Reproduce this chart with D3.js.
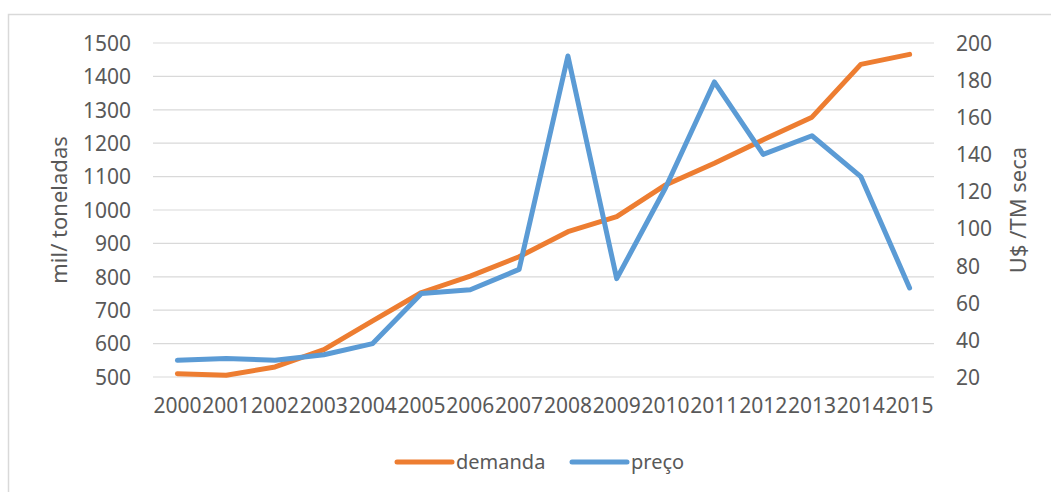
<!DOCTYPE html>
<html>
<head>
<meta charset="utf-8">
<script src="https://cdn.jsdelivr.net/npm/d3@7"></script>
<style>
  body { margin: 0; background: #fff; }
  text { font-family: "Noto Sans", "Open Sans", sans-serif; fill: #595959; }
</style>
</head>
<body>
<div id="chart"></div>
<script>
var anos = ["2000","2001","2002","2003","2004","2005","2006","2007","2008","2009","2010","2011","2012","2013","2014","2015"];
var demanda = [510, 505, 530, 582, 668, 753, 802, 860, 935, 980, 1075, 1140, 1210, 1278, 1436, 1466];
var preco = [29, 30, 29, 32, 38, 65, 67, 78, 193, 73, 122, 179, 140, 150, 128, 68];
var ticksEsq = [500, 600, 700, 800, 900, 1000, 1100, 1200, 1300, 1400, 1500];
var ticksDir = [20, 40, 60, 80, 100, 120, 140, 160, 180, 200];

var W = 1051, H = 492;
var svg = d3.select("#chart")
            .append("svg")
            .attr("width", W)
            .attr("height", H);

// moldura (sem borda direita visivel)
svg.append("rect")
   .attr("x", 8.5).attr("y", 14.5)
   .attr("width", 1100).attr("height", 500)
   .attr("fill", "none")
   .attr("stroke", "#d9d9d9")
   .attr("stroke-width", 1.5);

var x = d3.scaleBand()
          .domain(anos)
          .range([153, 934]);

var yL = d3.scaleLinear()
           .domain([500, 1500])
           .range([377, 43]);

var yR = d3.scaleLinear()
           .domain([20, 200])
           .range([377, 43]);

// grade
svg.append("g")
   .selectAll("line")
   .data(ticksEsq)
   .enter().append("line")
   .attr("x1", 153).attr("x2", 934)
   .attr("y1", function(d){ return yL(d); })
   .attr("y2", function(d){ return yL(d); })
   .attr("stroke", "#d9d9d9")
   .attr("stroke-width", 1.2);

// eixo esquerdo
var axL = svg.append("g")
   .attr("transform", "translate(131,0)")
   .call(d3.axisLeft(yL).tickValues(ticksEsq).tickFormat(d3.format("d")).tickSize(0).tickPadding(0));
axL.select(".domain").remove();
axL.selectAll("text").style("font-size", "21px").attr("dy", "0.35em");

// eixo direito
var axR = svg.append("g")
   .attr("transform", "translate(956,0)")
   .call(d3.axisRight(yR).tickValues(ticksDir).tickSize(0).tickPadding(0));
axR.select(".domain").remove();
axR.selectAll("text").style("font-size", "21px").attr("dy", "0.35em");

// eixo x
var axX = svg.append("g")
   .attr("transform", "translate(0,397)")
   .call(d3.axisBottom(x).tickSize(0).tickPadding(0));
axX.select(".domain").remove();
axX.selectAll("text").style("font-size", "21px").attr("dy", "0.75em");

// titulos
svg.append("text")
   .attr("transform", "translate(67,210) rotate(-90)")
   .attr("text-anchor", "middle")
   .style("font-size", "22px")
   .text("mil/ toneladas");

svg.append("text")
   .attr("transform", "translate(1026,210) rotate(-90)")
   .attr("text-anchor", "middle")
   .style("font-size", "22px")
   .text("U$ /TM seca");

// linhas
var cx = function(d, i){ return x(anos[i]) + x.bandwidth() / 2; };

var lineL = d3.line().x(cx).y(function(d){ return yL(d); });
var lineR = d3.line().x(cx).y(function(d){ return yR(d); });

svg.append("path")
   .attr("d", lineL(demanda))
   .attr("stroke", "#ED7D31")
   .attr("fill", "none")
   .attr("stroke-width", 5)
   .attr("stroke-linecap", "round")
   .attr("stroke-linejoin", "round");

svg.append("path")
   .attr("d", lineR(preco))
   .attr("stroke", "#5B9BD5")
   .attr("fill", "none")
   .attr("stroke-width", 5)
   .attr("stroke-linecap", "round")
   .attr("stroke-linejoin", "round");

// legenda
var leg = [
  { nome: "demanda", cor: "#ED7D31", x: 397 },
  { nome: "preço", cor: "#5B9BD5", x: 572 }
];
var lg = svg.append("g");
leg.forEach(function(l){
  lg.append("line")
    .attr("x1", l.x).attr("x2", l.x + 55)
    .attr("y1", 462).attr("y2", 462)
    .attr("stroke", l.cor)
    .attr("stroke-width", 5)
    .attr("stroke-linecap", "round");
  lg.append("text")
    .attr("x", l.x + 59).attr("y", 462)
    .attr("dy", "0.35em")
    .style("font-size", "20px")
    .text(l.nome);
});
</script>
</body>
</html>
